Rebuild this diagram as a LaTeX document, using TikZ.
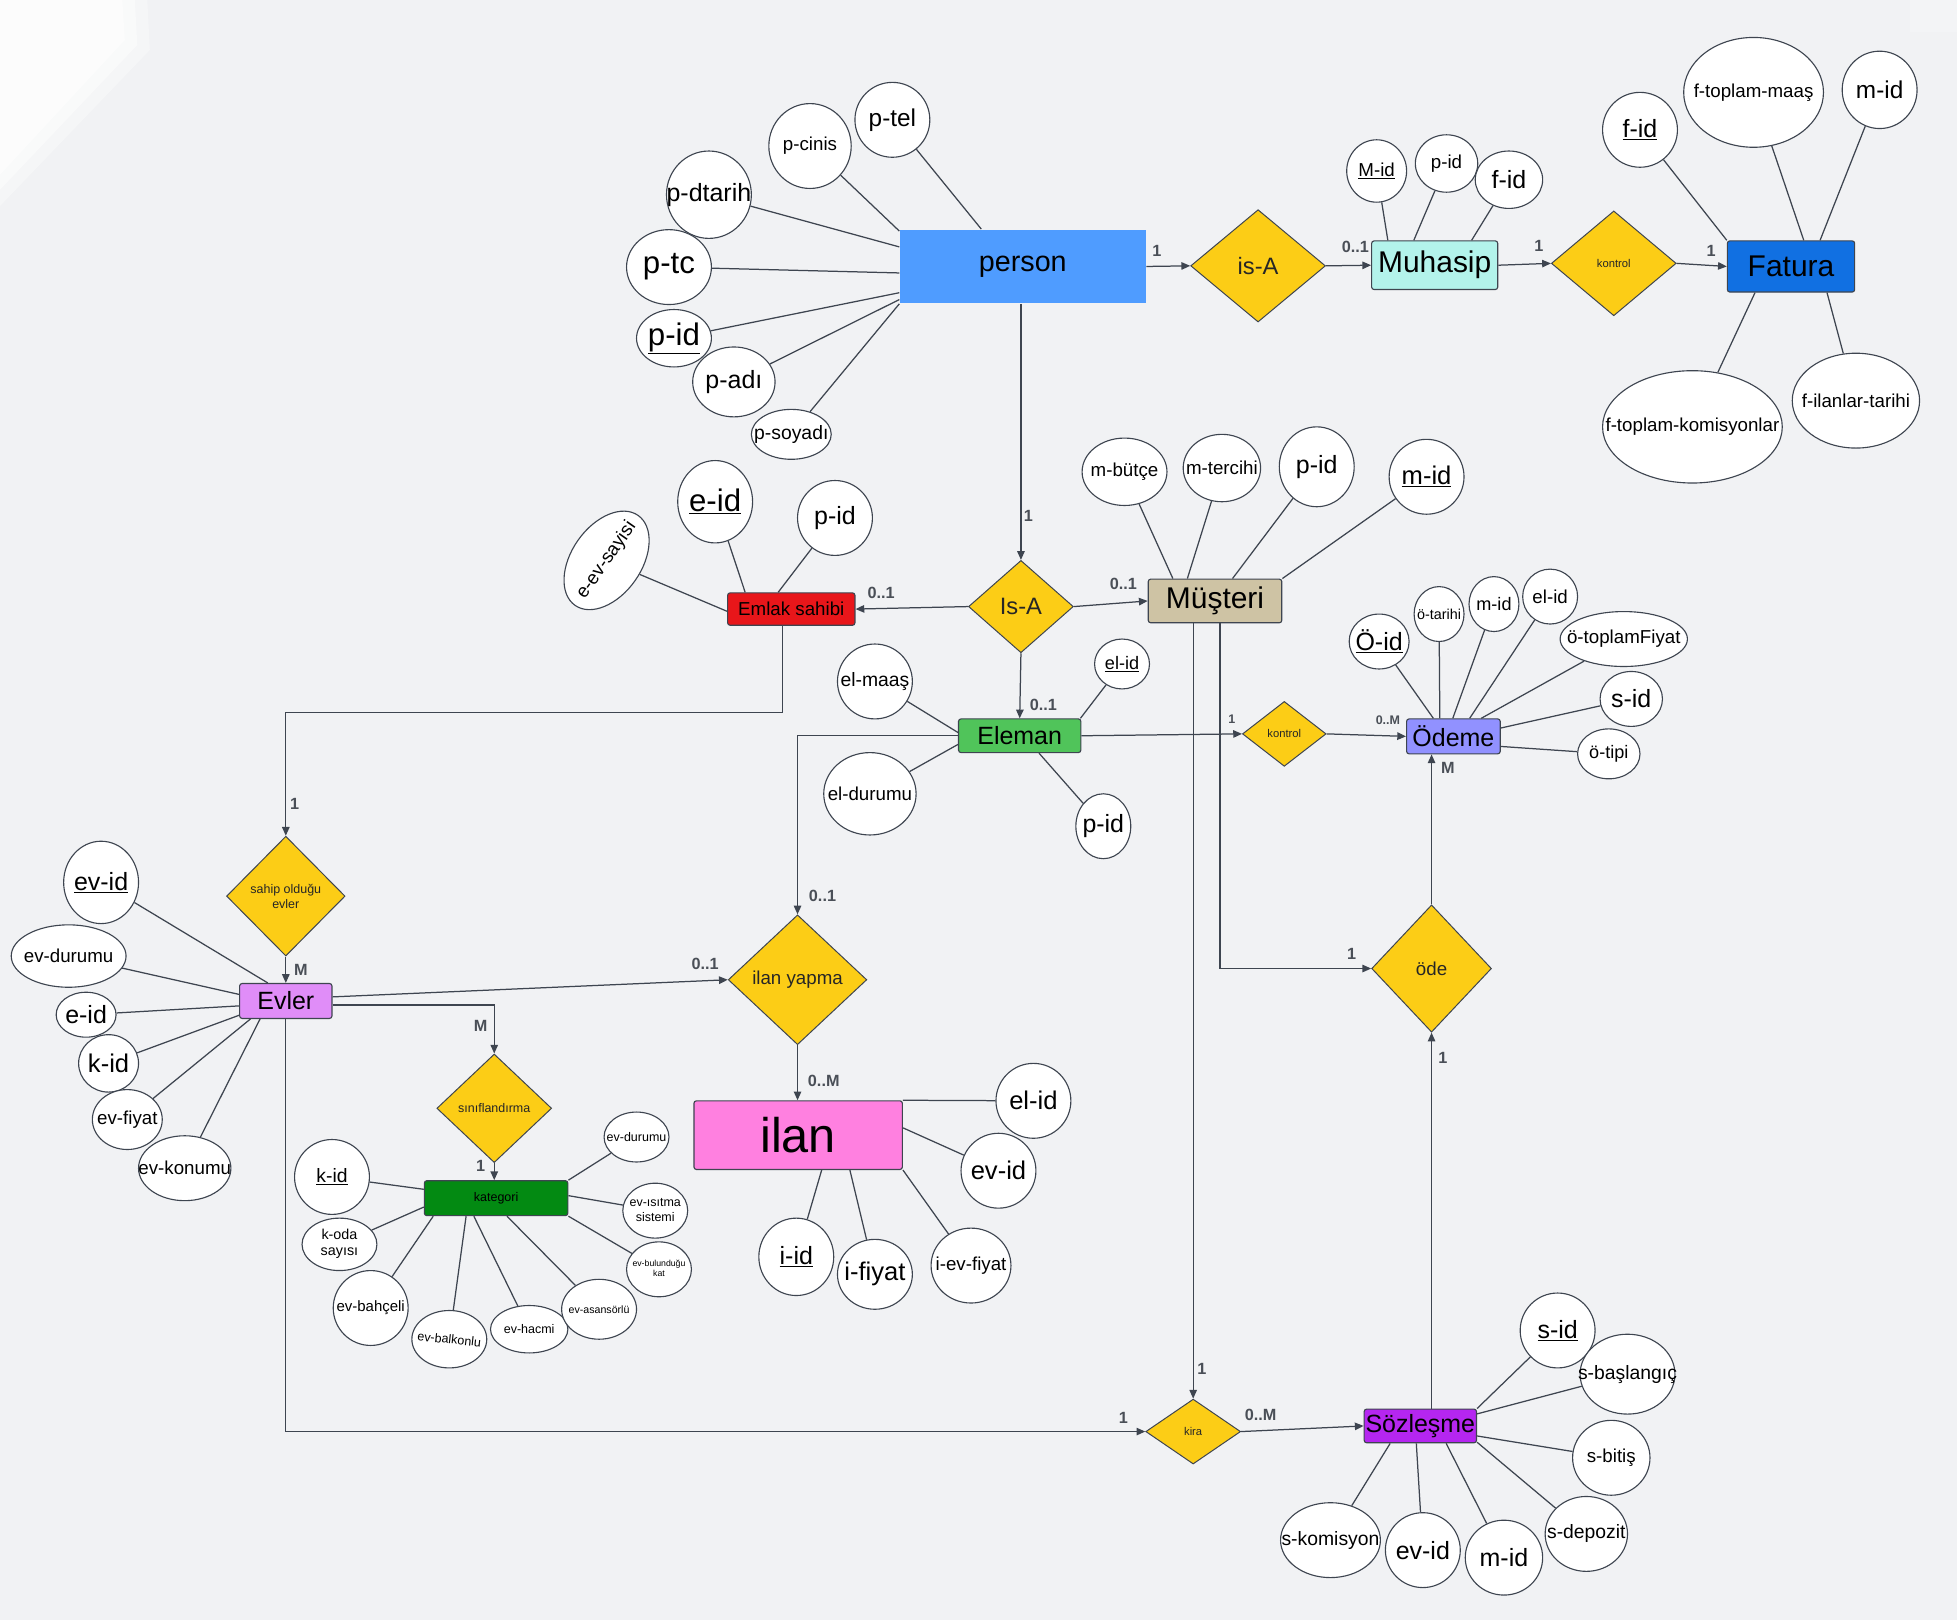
\documentclass[tikz,border=0pt]{standalone}
\usepackage{fontspec}
\setmainfont{Liberation Sans}
\usetikzlibrary{shapes.geometric,arrows.meta}

\definecolor{bgc}{HTML}{F1F2F4}
\definecolor{linec}{HTML}{3E4550}
\definecolor{lblc}{HTML}{4A4F57}
\definecolor{relc}{HTML}{FCCD16}
\definecolor{personc}{HTML}{4F9CFF}
\definecolor{muhasipc}{HTML}{B3F3EB}
\definecolor{faturac}{HTML}{1170E2}
\definecolor{emlakc}{HTML}{E8161A}
\definecolor{musteric}{HTML}{CEC3A4}
\definecolor{elemanc}{HTML}{50C45A}
\definecolor{odemec}{HTML}{9191FF}
\definecolor{evlerc}{HTML}{E08DF8}
\definecolor{kategoric}{HTML}{038A12}
\definecolor{ilanc}{HTML}{FF80E0}
\definecolor{sozlesmec}{HTML}{B526F0}

% zero-width box: the ellipse keeps its given size whatever the text length
\newcommand\zb[1]{\makebox[0pt][c]{#1}}
\newcommand\twol[2]{\zb{\begin{tabular}{@{}c@{}}#1\\#2\end{tabular}}}

\tikzset{
  sz/.style 2 args={minimum width=#1pt, minimum height=#2pt},
  fs/.style={font=\fontsize{#1}{#1}\selectfont},
  attr/.style={ellipse, draw=linec, fill=white, line width=0.9pt, inner sep=0pt, text=black},
  ent/.style={rectangle, draw=linec, line width=0.9pt, rounded corners=2pt, inner sep=0pt, text=black},
  rel/.style={diamond, draw=linec, fill=relc, line width=0.8pt, inner sep=0pt, align=center, text=black!85},
  ln/.style={draw=linec, line width=1pt},
  arr/.style={ln, -{Triangle[length=7pt,width=6pt]}},
  lbl/.style={text=lblc, font=\bfseries\fontsize{13}{13}\selectfont, inner sep=0pt},
  slbl/.style={text=lblc, font=\bfseries\fontsize{10}{10}\selectfont, inner sep=0pt},
}

\begin{document}
\begin{tikzpicture}[x=1pt,y=-1pt]
\useasboundingbox (0,0) rectangle (1568,1298);
\fill[bgc] (0,0) rectangle (1568,1298);
% soft glare in the corners
\fill[white, opacity=0.35] (0,0) -- (118,0) -- (120,40) -- (0,165) -- cycle;
\fill[white, opacity=0.45] (0,0) -- (108,0) -- (110,36) -- (0,152) -- cycle;
\fill[white, opacity=0.5] (0,0) -- (98,0) -- (100,32) -- (0,140) -- cycle;
\fill[white, opacity=0.2] (1530,0) rectangle (1568,26);

% ---------- entities ----------
\node[ent, draw=none, rounded corners=0pt, fill=personc, sz={197}{59}, fs=23] (person) at (819.5,213.5) {person};
\node[ent, fill=muhasipc, sz={101}{39}, fs=24] (muhasip) at (1149.5,212.5) {Muhasip};
\node[ent, fill=faturac, sz={102}{41}, fs=24] (fatura) at (1435,213.5) {Fatura};
\node[ent, fill=emlakc, sz={102}{26}, fs=15] (emlak) at (634,488) {Emlak sahibi};
\node[ent, fill=musteric, sz={107}{35}, fs=24] (musteri) at (973.5,481.5) {Müşteri};
\node[ent, fill=elemanc, sz={98}{27}, fs=20] (eleman) at (817,589.5) {Eleman};
\node[ent, fill=odemec, sz={75}{28}, fs=20] (odeme) at (1164.5,590) {Ödeme};
\node[ent, fill=evlerc, sz={74}{28}, fs=20] (evler) at (229,802) {Evler};
\node[ent, fill=kategoric, sz={115}{28}, fs=10] (kategori) at (397.5,960) {kategori};
\node[ent, fill=ilanc, sz={167}{55}, fs=39] (ilan) at (639.5,909.5) {ilan};
\node[ent, fill=sozlesmec, sz={90}{27}, fs=20] (sozlesme) at (1138,1142.5) {Sözleşme};

% ---------- relationships ----------
\node[rel, sz={108}{90}, fs=19] (isa1) at (1008,213) {is-A};
\node[rel, sz={100}{84}, fs=9] (kontrol1) at (1293,211) {kontrol};
\node[rel, sz={84}{74}, fs=19] (isa2) at (818,486) {Is-A};
\node[rel, sz={95}{96}, font=\fontsize{10}{12}\selectfont] (sahip) at (229,718) {sahip olduğu\\evler};
\node[rel, sz={92}{87}, fs=10] (sinif) at (396,888) {sınıflandırma};
\node[rel, sz={111}{104}, fs=15] (ilanyapma) at (639,785) {ilan yapma};
\node[rel, sz={67}{52}, fs=9] (kontrol2) at (1029,588) {kontrol};
\node[rel, sz={96}{102}, fs=15] (ode) at (1147,776) {öde};
\node[rel, sz={76}{52}, fs=9] (kira) at (956,1147) {kira};

% ---------- person attributes ----------
\node[attr, sz={60}{60}, fs=19.5] (ptel) at (715,96) {\zb{p-tel}};
\node[attr, sz={66}{68}, fs=15] (pcinis) at (649,117) {\zb{p-cinis}};
\node[attr, sz={68}{70}, fs=20] (pdtarih) at (568,156) {\zb{p-dtarih}};
\node[attr, sz={68}{60}, fs=25] (ptc) at (536,214) {\zb{p-tc}};
\node[attr, sz={60}{46}, fs=25] (ppid) at (540,271) {\zb{\underline{p-id}}};
\node[attr, sz={66}{56}, fs=20] (padi) at (588,306) {\zb{p-adı}};
\node[attr, sz={64}{40}, fs=15.5] (psoyadi) at (634,348) {\zb{p-soyadı}};
\draw[ln] (ptel) -- (person.138);
\draw[ln] (pcinis) -- (person.164);
\draw[ln] (pdtarih) -- (person.171);
\draw[ln] (ptc) -- (person.183);
\draw[ln] (ppid) -- (person.192);
\draw[ln] (padi) -- (person.195);
\draw[ln] (psoyadi) -- (person.south west);

% ---------- Muhasip attributes ----------
\node[attr, sz={48}{50}, fs=15] (mmid) at (1103,137) {\zb{\underline{M-id}}};
\node[attr, sz={50}{46}, fs=15] (mpid) at (1159,131) {\zb{p-id}};
\node[attr, sz={54}{46}, fs=20] (mfid) at (1209,144) {\zb{f-id}};
\draw[ln] (mmid) -- (muhasip.152);
\draw[ln] (mpid) -- (muhasip.130);
\draw[ln] (mfid) -- (muhasip.34);

% ---------- Fatura attributes ----------
\node[attr, sz={60}{60}, fs=20] (ffid) at (1314,104) {\zb{\underline{f-id}}};
\node[attr, sz={112}{88}, fs=15] (fmaas) at (1405,74) {\zb{f-toplam-maaş}};
\node[attr, sz={60}{62}, fs=19.5] (fmid) at (1506,72) {\zb{m-id}};
\node[attr, sz={144}{90}, fs=15] (fkom) at (1356,342) {\zb{f-toplam-komisyonlar}};
\node[attr, sz={102}{76}, fs=15] (filan) at (1487,321) {\zb{f-ilanlar-tarihi}};
\draw[ln] (ffid) -- (fatura.north west);
\draw[ln] (fmaas) -- (fatura.64);
\draw[ln] (fmid) -- (fatura.42);
\draw[ln] (fkom) -- (fatura.216);
\draw[ln] (filan) -- (fatura.324);

% ---------- Emlak sahibi attributes ----------
\node[attr, sz={60}{66}, fs=25] (eeid) at (573,402) {\zb{\underline{e-id}}};
\node[attr, sz={60}{60}, fs=20] (epid) at (669,415) {\zb{p-id}};
\node[attr, sz={88}{56}, fs=15, rotate=55] (eev) at (486,449) {\zb{e-ev-sayisi}};
\draw[ln] (eeid) -- (emlak.160);
\draw[ln] (epid) -- (emlak.128);
\draw[ln] (eev) -- (emlak.182);

% ---------- Müşteri attributes ----------
\node[attr, sz={68}{54}, fs=15] (mbutce) at (901,378) {\zb{m-bütçe}};
\node[attr, sz={62}{54}, fs=15] (mtercih) at (979,375) {\zb{m-tercihi}};
\node[attr, sz={60}{64}, fs=20] (mupid) at (1055,374) {\zb{p-id}};
\node[attr, sz={60}{60}, fs=20.5] (mumid) at (1143,382) {\zb{\underline{m-id}}};
\draw[ln] (mbutce) -- (musteri.152);
\draw[ln] (mtercih) -- (musteri.141);
\draw[ln] (mupid) -- (musteri.52);
\draw[ln] (mumid) -- (musteri.north east);

% ---------- Eleman attributes ----------
\node[attr, sz={60}{60}, fs=15.5] (elmaas) at (701,546) {\zb{el-maaş}};
\node[attr, sz={44}{40}, fs=14.5] (elid) at (899,532) {\zb{\underline{el-id}}};
\node[attr, sz={74}{66}, fs=15] (eldur) at (697,636) {\zb{el-durumu}};
\node[attr, sz={44}{52}, fs=20] (elpid) at (884,662) {\zb{p-id}};
\draw[ln] (elmaas) -- (eleman.177);
\draw[ln] (elid) -- (eleman.16);
\draw[ln] (eldur) -- (eleman.188);
\draw[ln] (elpid) -- (eleman.318);

% ---------- Ödeme attributes ----------
\node[attr, sz={48}{44}, fs=20] (oid) at (1105,514) {\zb{\underline{Ö-id}}};
\node[attr, sz={40}{44}, fs=11.5] (otarih) at (1153,492) {\zb{ö-tarihi}};
\node[attr, sz={40}{44}, fs=14.5] (omid) at (1197,484) {\zb{m-id}};
\node[attr, sz={44}{44}, fs=15] (oelid) at (1242,478) {\zb{el-id}};
\node[attr, sz={102}{44}, fs=15] (otop) at (1301,512) {\zb{ö-toplamFiyat}};
\node[attr, sz={50}{44}, fs=20] (osid) at (1307,560) {\zb{s-id}};
\node[attr, sz={50}{40}, fs=14.5] (otipi) at (1289,604) {\zb{ö-tipi}};
\draw[ln] (oid) -- (odeme.138);
\draw[ln] (otarih) -- (odeme.127);
\draw[ln] (omid) -- (odeme.92);
\draw[ln] (oelid) -- (odeme.48);
\draw[ln] (otop) -- (odeme.33);
\draw[ln] (osid) -- (odeme.10);
\draw[ln] (otipi) -- (odeme.348);

% ---------- Evler attributes ----------
\node[attr, sz={60}{66}, fs=20] (evid) at (81,707) {\zb{\underline{ev-id}}};
\node[attr, sz={92}{50}, fs=15] (evdur) at (55,766) {\zb{ev-durumu}};
\node[attr, sz={48}{36}, fs=20] (eveid) at (69,813) {\zb{e-id}};
\node[attr, sz={48}{46}, fs=20.5] (evkid) at (87,852) {\zb{k-id}};
\node[attr, sz={56}{48}, fs=15] (evfiyat) at (102,897) {\zb{ev-fiyat}};
\node[attr, sz={74}{52}, fs=15] (evkon) at (148,936) {\zb{ev-konumu}};
\draw[ln] (evid) -- (evler.135);
\draw[ln] (evdur) -- (evler.172);
\draw[ln] (eveid) -- (evler.186);
\draw[ln] (evkid) -- (evler.197);
\draw[ln] (evfiyat) -- (evler.207);
\draw[ln] (evkon) -- (evler.215);

% ---------- kategori attributes ----------
\node[attr, sz={60}{60}, fs=15.5] (kkid) at (266,943) {\zb{\underline{k-id}}};
\node[attr, sz={60}{42}, font=\fontsize{11.5}{13}\selectfont] (koda) at (272,997) {\twol{k-oda}{sayısı}};
\node[attr, sz={60}{60}, fs=12] (kbahce) at (297,1048) {\zb{ev-bahçeli}};
\node[attr, sz={60}{46}, fs=10] (kbalkon) at (360,1073) {\zb{\rotatebox{-6}{ev-balkonlu}}};
\node[attr, sz={62}{38}, fs=10] (khacim) at (424,1065) {\zb{ev-hacmi}};
\node[attr, sz={60}{48}, fs=8.5] (kasans) at (480,1049) {\zb{ev-asansörlü}};
\node[attr, sz={52}{44}, font=\fontsize{7}{8.5}\selectfont] (kkat) at (528,1017) {\twol{ev-bulunduğu}{kat}};
\node[attr, sz={52}{44}, font=\fontsize{10}{12}\selectfont] (kisi) at (525,970) {\twol{ev-ısıtma}{sistemi}};
\node[attr, sz={52}{40}, fs=10] (kdur) at (510,911) {\zb{ev-durumu}};
\draw[ln] (kkid) -- (kategori.173);
\draw[ln] (koda) -- (kategori.187);
\draw[ln] (kbahce) -- (kategori.196);
\draw[ln] (kbalkon) -- (kategori.211);
\draw[ln] (khacim) -- (kategori.219);
\draw[ln] (kasans) -- (kategori.301);
\draw[ln] (kkat) -- (kategori.south east);
\draw[ln] (kisi) -- (kategori.2);
\draw[ln] (kdur) -- (kategori.north east);

% ---------- ilan attributes ----------
\node[attr, sz={60}{60}, fs=20.5] (ielid) at (828,882) {\zb{el-id}};
\node[attr, sz={60}{60}, fs=20.5] (ievid) at (800,938) {\zb{ev-id}};
\node[attr, sz={60}{62}, fs=20] (iiid) at (638,1007) {\zb{\underline{i-id}}};
\node[attr, sz={60}{56}, fs=20.5] (ifiyat) at (701,1021) {\zb{i-fiyat}};
\node[attr, sz={64}{60}, fs=15] (ievf) at (778,1014) {\zb{i-ev-fiyat}};
\draw[ln] (ielid) -- (ilan.north east);
\draw[ln] (ievid) -- (ilan.4);
\draw[ln] (iiid) -- (ilan.304);
\draw[ln] (ifiyat) -- (ilan.326);
\draw[ln] (ievf) -- (ilan.south east);

% ---------- Sözleşme attributes ----------
\node[attr, sz={60}{60}, fs=20] (ssid) at (1248,1066) {\zb{\underline{s-id}}};
\node[attr, sz={76}{64}, fs=15.5] (sbas) at (1304,1101) {\zb{s-başlangıç}};
\node[attr, sz={62}{60}, fs=15] (sbit) at (1291,1168) {\zb{s-bitiş}};
\node[attr, sz={66}{60}, fs=15.5] (sdep) at (1271,1229) {\zb{s-depozit}};
\node[attr, sz={62}{60}, fs=20] (smid) at (1205,1248) {\zb{m-id}};
\node[attr, sz={60}{60}, fs=20] (sevid) at (1140,1242) {\zb{ev-id}};
\node[attr, sz={80}{60}, fs=15.5] (skom) at (1066,1234) {\zb{s-komisyon}};
\draw[ln] (ssid) -- (sozlesme.north east);
\draw[ln] (sbas) -- (sozlesme.12);
\draw[ln] (sbit) -- (sozlesme.350);
\draw[ln] (sdep) -- (sozlesme.344);
\draw[ln] (smid) -- (sozlesme.326);
\draw[ln] (sevid) -- (sozlesme.257);
\draw[ln] (skom) -- (sozlesme.210);

% ---------- connectors ----------
\coordinate (ebend) at (627,571);

\draw[arr] (person.east) -- (isa1.west);
\draw[arr] (isa1.east) -- (muhasip.west);
\draw[arr] (muhasip.east) -- (kontrol1.west);
\draw[arr] (kontrol1.east) -- (fatura.west);
\draw[arr] (isa2.north |- person.south) -- (isa2.north);
\draw[arr] (isa2.west) -- (emlak.east);
\draw[arr] (isa2.east) -- (musteri.west);
\draw[arr] (isa2.south) -- (eleman.north);
\draw[arr] ([xshift=-7pt]emlak.south) -- (ebend) -| (sahip.north);
\draw[arr] (sahip.south) -- (evler.north);
\draw[arr] (evler.5) -- (ilanyapma.west);
\draw[arr] (evler.355) -| (sinif.north);
\draw[arr] (sinif.south) -- (kategori.north -| sinif.south);
\draw[arr] (evler.south) |- (kira.west);
\draw[arr] (eleman.west) -| (ilanyapma.north);
\draw[arr] (ilanyapma.south) -- (ilan.north -| ilanyapma.south);
\draw[arr] (eleman.east) -- (kontrol2.west);
\draw[arr] (kontrol2.east) -- (odeme.west);
\draw[arr] (kira.north |- musteri.south) -- (kira.north);
\draw[arr] ([xshift=4pt]musteri.south) |- (ode.west);
\draw[arr] (ode.north) -- (ode.north |- odeme.south);
\draw[arr] (ode.south |- sozlesme.north) -- (ode.south);
\draw[arr] (kira.east) -- (sozlesme.west);

% ---------- cardinalities ----------
\node[lbl] (c1) at (927,201) {1};
\node[lbl] (c2) at (1086,198) {0..1};
\node[lbl] (c3) at (1233,197) {1};
\node[lbl] (c4) at (1371,201) {1};
\node[lbl] (c5) at (824,413) {1};
\node[lbl] (c6) at (706,475) {0..1};
\node[lbl] (c7) at (900,468) {0..1};
\node[lbl] (c8) at (836,565) {0..1};
\node[lbl] (c9) at (236,644) {1};
\node[lbl] (c10) at (241,777) {M};
\node[lbl] (c11) at (565,772) {0..1};
\node[lbl] (c12) at (385,822) {M};
\node[lbl] (c13) at (385,934) {1};
\node[lbl] (c14) at (659,718) {0..1};
\node[lbl] (c15) at (660,866) {0..M};
\node[slbl] (c16) at (987,576) {1};
\node[slbl] (c17) at (1112,577) {0..M};
\node[lbl] (c18) at (1160,615) {M};
\node[lbl] (c19) at (1083,764) {1};
\node[lbl] (c20) at (1156,848) {1};
\node[lbl] (c21) at (963,1097) {1};
\node[lbl] (c22) at (900,1136) {1};
\node[lbl] (c23) at (1010,1134) {0..M};
\end{tikzpicture}
\end{document}
